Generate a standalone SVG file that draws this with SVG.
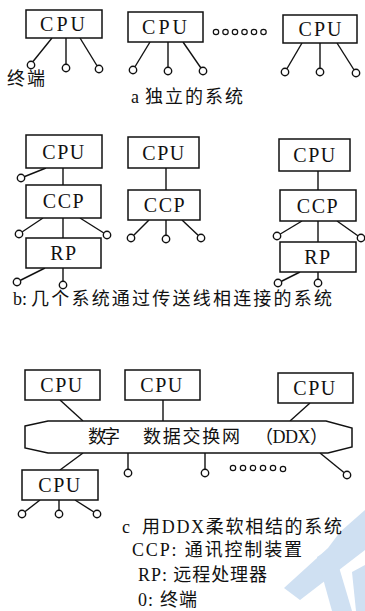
<svg xmlns="http://www.w3.org/2000/svg" width="365" height="611" viewBox="0 0 365 611">
<style>
.box{fill:#fff;stroke:#111;stroke-width:1.5}
.ln{stroke:#111;stroke-width:1.4;fill:none}
.term{fill:#fff;stroke:#111;stroke-width:1.4}
.dot{fill:none;stroke:#111;stroke-width:1.2}
.lbl{font-family:"Liberation Serif","Noto Sans CJK SC",serif;font-size:20px;fill:#111;text-anchor:middle;letter-spacing:1.5px}
.cap{font-family:"Liberation Serif","Noto Sans CJK SC",serif;font-size:18px;fill:#111}
.wm{fill:#cfe0f2}
</style>
<rect width="365" height="611" fill="#fff"/>

<g id="watermark">
<polygon class="wm" points="340,532 365,510 365,550 300,600 284,588 328,548"/>
<polygon class="wm" points="317,557 333,547 352,611 332,611"/>
<polygon class="wm" points="352,572 365,565 365,611 356,611"/>
</g>

<g id="connectors" class="ln">
<line x1="52" y1="38" x2="31" y2="64"/><line x1="66" y1="38" x2="66" y2="68"/><line x1="80" y1="38" x2="99" y2="69"/>
<line x1="150" y1="42" x2="133" y2="70"/><line x1="168" y1="42" x2="168" y2="71"/><line x1="183" y1="42" x2="203" y2="71"/>
<line x1="302" y1="43" x2="285" y2="72"/><line x1="320" y1="43" x2="320" y2="72"/><line x1="337" y1="43" x2="356" y2="73"/>
<line x1="63" y1="168" x2="63" y2="185"/><line x1="63" y1="218" x2="63" y2="238"/><line x1="63" y1="268" x2="63" y2="285"/>
<line x1="46" y1="168" x2="21" y2="178"/>
<line x1="43" y1="218" x2="19" y2="234"/><line x1="80" y1="218" x2="107" y2="235"/>
<line x1="45" y1="268" x2="17" y2="282"/>
<line x1="166" y1="168" x2="166" y2="190"/>
<line x1="149" y1="220" x2="131" y2="238"/><line x1="166" y1="220" x2="166" y2="239"/><line x1="182" y1="220" x2="201" y2="238"/>
<line x1="318" y1="171" x2="318" y2="190"/><line x1="318" y1="221" x2="318" y2="242"/><line x1="318" y1="272" x2="318" y2="283"/>
<line x1="302" y1="221" x2="277" y2="236"/><line x1="337" y1="221" x2="361" y2="238"/>
<line x1="300" y1="272" x2="278" y2="283"/>
<line x1="60" y1="400" x2="83" y2="421"/><line x1="163" y1="400" x2="163" y2="421"/><line x1="310" y1="403" x2="290" y2="421"/>
<line x1="83" y1="453" x2="60" y2="470"/>
<line x1="40" y1="500" x2="22" y2="514"/><line x1="59" y1="500" x2="59" y2="514"/><line x1="75" y1="500" x2="97" y2="514"/>
<line x1="128" y1="453" x2="128" y2="473"/><line x1="205" y1="453" x2="205" y2="473"/>
<line x1="320" y1="453" x2="347" y2="475"/>
</g>

<g id="terminals" class="term">
<circle cx="31" cy="65" r="3.7"/><circle cx="66" cy="68" r="3.7"/><circle cx="99" cy="69" r="3.7"/>
<circle cx="133" cy="70" r="3.7"/><circle cx="168" cy="71" r="3.7"/><circle cx="203" cy="71" r="3.7"/>
<circle cx="285" cy="72" r="3.7"/><circle cx="320" cy="72" r="3.7"/><circle cx="356" cy="73" r="3.7"/>
<circle cx="21" cy="178" r="3.7"/><circle cx="19" cy="234" r="3.7"/><circle cx="107" cy="235" r="3.7"/>
<circle cx="17" cy="282" r="3.7"/><circle cx="63" cy="285" r="3.7"/>
<circle cx="131" cy="238" r="3.7"/><circle cx="166" cy="239" r="3.7"/><circle cx="201" cy="238" r="3.7"/>
<circle cx="277" cy="236" r="3.7"/><circle cx="361" cy="238" r="3.7"/>
<circle cx="278" cy="283" r="3.7"/><circle cx="318" cy="283" r="3.7"/>
<circle cx="22" cy="514" r="3.7"/><circle cx="59" cy="514" r="3.7"/><circle cx="97" cy="514" r="3.7"/>
<circle cx="128" cy="473" r="3.7"/><circle cx="205" cy="473" r="3.7"/><circle cx="347" cy="475" r="3.7"/>
</g>

<g id="dots-a" class="dot">
<circle cx="216" cy="32" r="2.7"/><circle cx="225.5" cy="32" r="2.7"/><circle cx="235" cy="32" r="2.7"/><circle cx="244.5" cy="32" r="2.7"/><circle cx="254" cy="32" r="2.7"/><circle cx="263.5" cy="32" r="2.7"/>
</g>
<g id="dots-c" class="dot">
<circle cx="233" cy="468" r="2.7"/><circle cx="243" cy="468" r="2.7"/><circle cx="253" cy="468" r="2.7"/><circle cx="263" cy="468" r="2.7"/><circle cx="273" cy="468" r="2.7"/><circle cx="283" cy="469" r="2.7"/>
</g>

<g id="a-cpu1"><rect class="box" x="26" y="10" width="76" height="28"/><text class="lbl" x="64" y="31" style="letter-spacing:3px">CPU</text></g>
<g id="a-cpu2"><rect class="box" x="128" y="12" width="75" height="30"/><text class="lbl" x="166" y="34" style="letter-spacing:3px">CPU</text></g>
<g id="a-cpu3"><rect class="box" x="283" y="15" width="74" height="28"/><text class="lbl" x="321" y="36" style="letter-spacing:2px">CPU</text></g>
<text class="cap" x="7" y="85" textLength="38">终端</text>
<text class="cap" x="131" y="103">a</text>
<text class="cap" x="145" y="103" textLength="98">独立的系统</text>

<g id="b-cpu1"><rect class="box" x="26" y="135" width="76" height="33"/><text class="lbl" x="64" y="159">CPU</text></g>
<g id="b-ccp1"><rect class="box" x="26" y="185" width="75" height="33"/><text class="lbl" x="64" y="208">CCP</text></g>
<g id="b-rp1"><rect class="box" x="26" y="238" width="75" height="30"/><text class="lbl" x="64" y="260">RP</text></g>
<g id="b-cpu2"><rect class="box" x="128" y="137" width="71" height="31"/><text class="lbl" x="164" y="160">CPU</text></g>
<g id="b-ccp2"><rect class="box" x="128" y="190" width="72" height="30"/><text class="lbl" x="165" y="212">CCP</text></g>
<g id="b-cpu3"><rect class="box" x="279" y="139" width="71" height="32"/><text class="lbl" x="315" y="162">CPU</text></g>
<g id="b-ccp3"><rect class="box" x="280" y="190" width="76" height="31"/><text class="lbl" x="318" y="213">CCP</text></g>
<g id="b-rp3"><rect class="box" x="280" y="242" width="76" height="30"/><text class="lbl" x="318" y="264">RP</text></g>
<text class="cap" x="13" y="305">b:</text>
<text class="cap" x="31" y="305" textLength="301">几个系统通过传送线相连接的系统</text>

<g id="c-cpu1"><rect class="box" x="25" y="370" width="75" height="30"/><text class="lbl" x="62" y="392">CPU</text></g>
<g id="c-cpu2"><rect class="box" x="125" y="370" width="75" height="30"/><text class="lbl" x="162" y="392">CPU</text></g>
<g id="c-cpu3"><rect class="box" x="278" y="373" width="75" height="30"/><text class="lbl" x="315" y="395">CPU</text></g>
<g id="ddx">
<polygon class="box" points="25,426 48,421 326,421 352,428 352,447 328,453 48,453 25,448"/>
<text class="cap" x="88" y="443" textLength="32" font-size="17">数字</text>
<text class="cap" x="143" y="443" textLength="97" font-size="17">数据交换网</text>
<text class="cap" x="255" y="443" textLength="73" font-size="17">（DDX）</text>
</g>
<g id="c-cpu4"><rect class="box" x="22" y="470" width="76" height="30"/><text class="lbl" x="60" y="492">CPU</text></g>
<text class="cap" x="122" y="533">c</text>
<text class="cap" x="142" y="533" textLength="200">用DDX柔软相结的系统</text>
<text class="cap" x="132" y="556" textLength="170">CCP: 通讯控制装置</text>
<text class="cap" x="138" y="581" textLength="129">RP: 远程处理器</text>
<text class="cap" x="138" y="606" textLength="59">0: 终端</text>
</svg>
